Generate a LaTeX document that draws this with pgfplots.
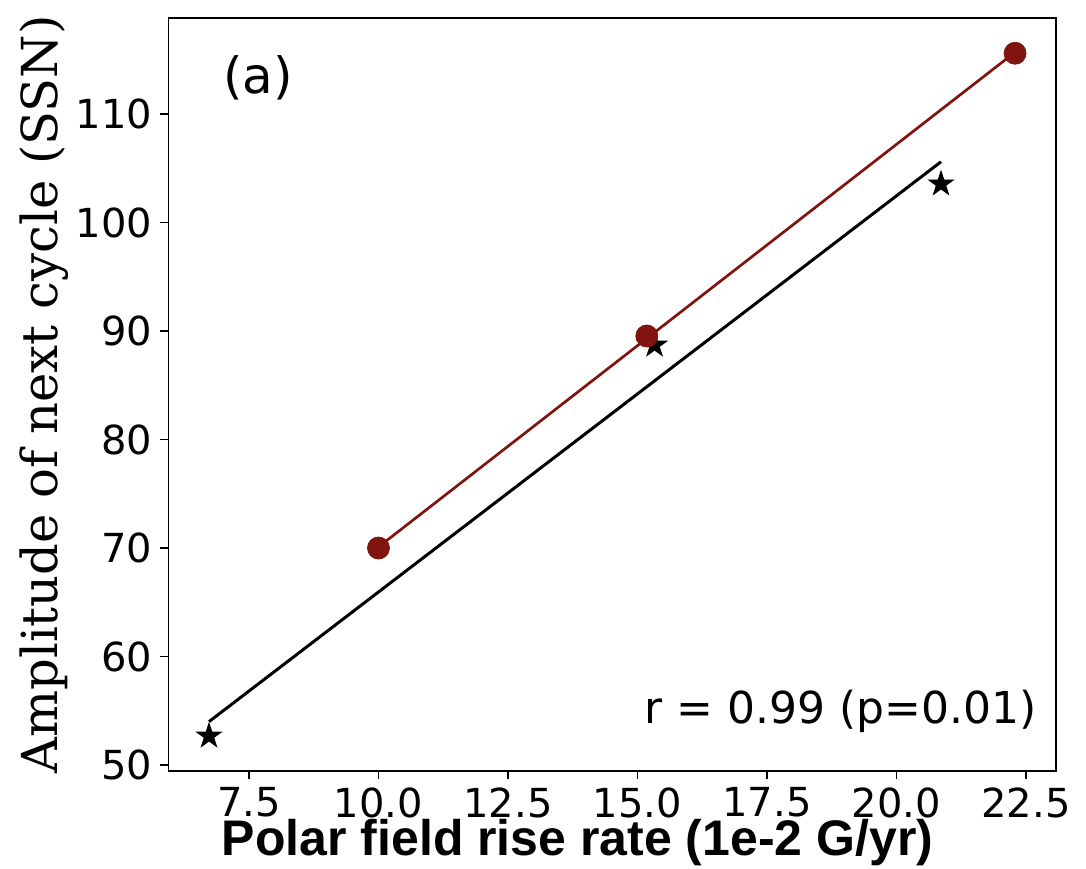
\documentclass[border=0pt]{standalone}
\usepackage{fontspec}
\usepackage{pgfplots}
\pgfplotsset{compat=1.18}
\newfontfamily\dvs{DejaVu Sans}
\newfontfamily\dvserif{DejaVu Serif}
\newfontfamily\libsans{Liberation Sans}
\definecolor{darkred}{RGB}{128,21,16}

% filled five-pointed star, like matplotlib's '*'
\pgfdeclareplotmark{fstar}{%
  \pgfpathmoveto{\pgfqpointpolar{90}{\pgfplotmarksize}}%
  \pgfpathlineto{\pgfqpointpolar{126}{0.382\pgfplotmarksize}}%
  \pgfpathlineto{\pgfqpointpolar{162}{\pgfplotmarksize}}%
  \pgfpathlineto{\pgfqpointpolar{198}{0.382\pgfplotmarksize}}%
  \pgfpathlineto{\pgfqpointpolar{234}{\pgfplotmarksize}}%
  \pgfpathlineto{\pgfqpointpolar{270}{0.382\pgfplotmarksize}}%
  \pgfpathlineto{\pgfqpointpolar{306}{\pgfplotmarksize}}%
  \pgfpathlineto{\pgfqpointpolar{342}{0.382\pgfplotmarksize}}%
  \pgfpathlineto{\pgfqpointpolar{18}{\pgfplotmarksize}}%
  \pgfpathlineto{\pgfqpointpolar{54}{0.382\pgfplotmarksize}}%
  \pgfpathclose
  \pgfusepathqfillstroke}

\begin{document}
\begin{tikzpicture}
\useasboundingbox (0,0) rectangle (543pt,434pt);
\begin{axis}[
    at={(84.25pt,48.5pt)}, anchor=south west,
    scale only axis,
    width=443.75pt, height=376.5pt,
    xmin=5.946, xmax=23.08,
    ymin=49.45, ymax=118.85,
    xtick={7.5,10,12.5,15,17.5,20,22.5},
    ytick={50,60,70,80,90,100,110},
    tick pos=left,
    tick align=outside,
    major tick length=4pt,
    axis line style={line width=0.9pt},
    every tick/.style={black, line width=0.9pt},
    /pgf/number format/assume math mode=true,
    xticklabel={\pgfmathprintnumber[fixed,fixed zerofill,precision=1]{\tick}},
    ticklabel style={font=\dvs\fontsize{20}{24}\selectfont, inner sep=0pt},
    xticklabel style={anchor=north, yshift=-4pt},
    yticklabel style={anchor=east, xshift=-4pt},
    xlabel={\libsans\bfseries Polar field rise rate (1e-2 G/yr)},
    xlabel style={font=\fontsize{25}{30}\selectfont, at={(axis description cs:0.461,0)}, anchor=base, yshift=-42pt, inner sep=0pt},
    ylabel={\dvserif Amplitude of next cycle (SSN)},
    ylabel style={font=\fontsize{24.8}{30}\selectfont, at={(axis description cs:0,0.5)}, anchor=base, yshift=55.25pt, inner sep=0pt},
    clip=false,
]
% linear fit to the stars
\addplot[black, line width=1.5pt] coordinates {(6.728,54.0) (20.86,105.6)};
\addplot[only marks, mark=fstar, mark size=6.5pt, black, mark options={fill=black}]
  coordinates {(6.728,52.67) (15.33,88.7) (20.86,103.55)};
% linear fit to the circles
\addplot[darkred, line width=1.35pt] coordinates {(10.0,70.1) (22.29,115.7)};
\addplot[only marks, mark=*, mark size=5.5pt, darkred, mark options={fill=darkred, draw=darkred}]
  coordinates {(10.0,70.0) (15.18,89.54) (22.29,115.6)};

\node[anchor=base, inner sep=0pt, font=\dvs\fontsize{25}{30}\selectfont] at (axis cs:7.674,111.9) {(a)};
\node[anchor=base east, inner sep=0pt, font=\dvs\fontsize{22}{26}\selectfont] at (axis cs:22.713,53.87) {r = 0.99 (p=0.01)};
\end{axis}
\end{tikzpicture}
\end{document}
